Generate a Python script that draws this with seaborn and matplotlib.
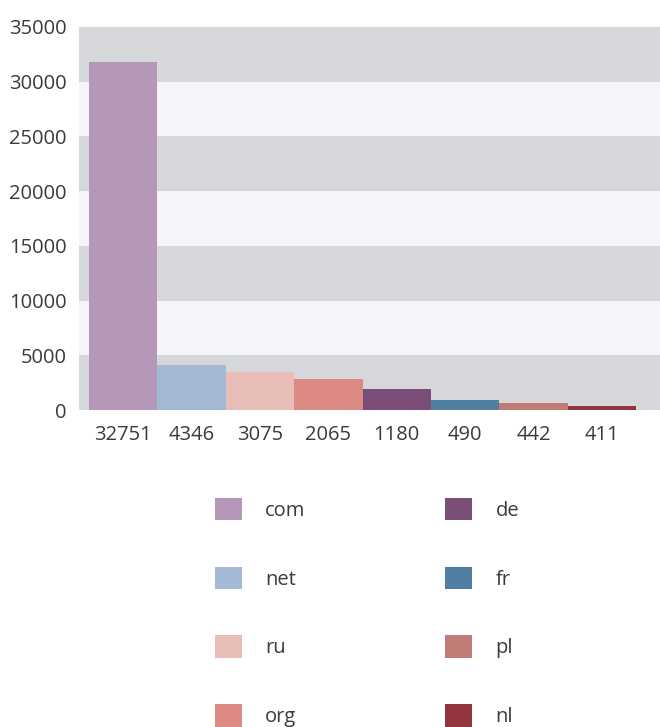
import matplotlib
matplotlib.use("Agg")
import matplotlib.pyplot as plt
import seaborn as sns
import pandas as pd
from matplotlib.patches import Patch

# Data
domains = ["com", "net", "ru", "org", "de", "fr", "pl", "nl"]
tick_labels = ["32751", "4346", "3075", "2065", "1180", "490", "442", "411"]
heights = [31800, 4070, 3470, 2790, 1920, 920, 670, 320]
colors = ["#b597b7", "#a3b9d6", "#e8bdb7", "#dc8a81", "#7b4e77", "#517fa1", "#c07b76", "#93343f"]
y_ticks = [0, 5000, 10000, 15000, 20000, 25000, 30000, 35000]

df = pd.DataFrame({"label": tick_labels, "value": heights, "domain": domains})

sns.set_theme(style="white")
plt.rcParams["font.family"] = ["Open Sans", "DejaVu Sans"]
text_color = "#3a3a3a"
fs = 14.5

fig = plt.figure(figsize=(6.6, 7.27), dpi=100)
ax = fig.add_axes([79 / 660, 1 - 410 / 727, 1 - 79 / 660, (410 - 27) / 727])

# alternating background bands
for i in range(len(y_ticks) - 1):
    c = "#d6d7db" if i % 2 == 0 else "#f5f5f9"
    ax.axhspan(y_ticks[i], y_ticks[i + 1], color=c, lw=0, zorder=0)

sns.barplot(data=df, x="label", y="value", hue="domain", palette=dict(zip(domains, colors)),
            dodge=False, width=1.0, legend=False, saturation=1, ax=ax, zorder=2)
for p in ax.patches:
    p.set_linewidth(0)

ax.set_xlim(-0.5 - 10 / 68.4, 7.5 + 24 / 68.4)
ax.set_ylim(0, 35000)
ax.set_yticks(y_ticks)
ax.set_yticklabels([str(t) for t in y_ticks])
ax.set_xlabel("")
ax.set_ylabel("")
for s in ax.spines.values():
    s.set_visible(False)
ax.tick_params(axis="y", length=0, pad=9, labelsize=fs, labelcolor=text_color)
ax.tick_params(axis="x", length=0, pad=11, labelsize=fs, labelcolor=text_color)

handles = [Patch(facecolor=c, edgecolor="none", label=d) for d, c in zip(domains, colors)]
fig.legend(handles=handles, ncol=2, loc="upper left", bbox_to_anchor=(215 / 660, 1 - 498 / 727),
           frameon=False, fontsize=fs, handlelength=1.34, handleheight=1.34,
           handletextpad=1.14, labelspacing=2.27, columnspacing=6.96, borderpad=0,
           borderaxespad=0, labelcolor=text_color)

fig.savefig("out.png", dpi=100)
